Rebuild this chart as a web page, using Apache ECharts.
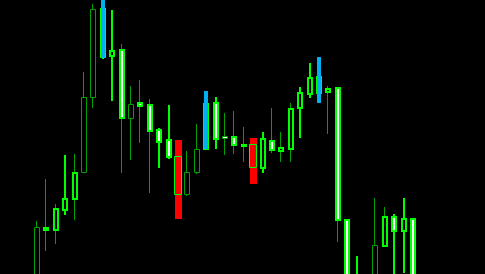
<!DOCTYPE html>
<html>
<head>
<meta charset="utf-8">
<script src="https://cdn.jsdelivr.net/npm/echarts@6/dist/echarts.min.js"></script>
<style>
html,body{margin:0;padding:0;background:#000;overflow:hidden}
#chart{width:485px;height:274px}
</style>
</head>
<body>
<div id="chart"></div>
<script>
// ---- data ----
const opens  = [1174,1246,1244,1264,1275,1301,1376,1465,1418,1424,1355,1371,1369,1344,1334,1318,1279,1301,1325,1371,1338,1337,1329,1330,1306,1333,1323,1325,1366,1380,1397,1382,1386,1254,1194,1184,1174,1228,1257,1243,1255];
const closes = [1247,1244,1265,1275,1301,1377,1465,1417,1423,1356,1370,1368,1343,1332,1317,1279,1302,1325,1370,1335,1335,1329,1328,1306,1335,1324,1326,1365,1381,1396,1381,1385,1254,1174,1174,1164,1229,1257,1243,1255,1184];
const highs  = [1253,1295,1270,1319,1320,1402,1470,1471,1464,1430,1388,1394,1375,1346,1369,1329,1323,1350,1379,1377,1361,1363,1347,1334,1342,1366,1342,1371,1387,1411,1414,1388,1386,1254,1218,1194,1276,1267,1260,1276,1255];
const lows   = [1164,1223,1230,1259,1254,1301,1366,1415,1373,1301,1314,1331,1281,1306,1315,1262,1278,1300,1324,1325,1319,1320,1312,1292,1301,1321,1312,1312,1336,1376,1374,1340,1232,1154,1154,1144,1164,1227,1189,1201,1174];
// signal bars: [bar index, upper price, lower price]
const blueSignals = [[7,1479,1416],[18,1383,1325],[30,1417,1371]];
const redSignals  = [[15,1334,1255],[23,1336,1290]];

// ---- style ----
const LIME = '#00ff00', DARK = '#00a000', BLUE = '#00b0f0', RED = '#ff0000';
const DIM_BODY = [0,5,6,10,16,17,20,36];
const DIM_WICK = [0,1,2,4,5,6,9,10,11,12,16,17,20,21,22,25,26,27,31,32,36,37];
const redIdx = new Set(redSignals.map(r => r[0]));

const candleData = opens.map((o, i) => [i, o, closes[i], lows[i], highs[i]]);

function renderCandle(params, api) {
  const i = api.value(0);
  const o = api.value(1), c = api.value(2), l = api.value(3), h = api.value(4);
  const pO = api.coord([i, o]), pC = api.coord([i, c]);
  const pH = api.coord([i, h]), pL = api.coord([i, l]);
  const cx = Math.round(pO[0]);
  const top = Math.round(Math.min(pO[1], pC[1]));
  const bot = Math.round(Math.max(pO[1], pC[1]));
  const bull = c >= o;
  const dimBody = DIM_BODY.includes(i);
  const dimWick = DIM_WICK.includes(i);
  const children = [];
  if (redIdx.has(i)) {
    children.push({
      type: 'rect',
      shape: { x: cx - 3.5, y: top + 0.5, width: 7, height: Math.max(bot - top - 1, 0) },
      style: { fill: 'none', stroke: LIME, lineWidth: 1 }
    });
  } else {
    if (dimWick) {
      children.push({
        type: 'line',
        shape: { x1: cx - 0.5, y1: Math.round(pH[1]), x2: cx - 0.5, y2: Math.round(pL[1]) },
        style: { stroke: DARK, lineWidth: 1 }
      });
    } else {
      children.push({
        type: 'line',
        shape: { x1: cx, y1: Math.round(pH[1]), x2: cx, y2: Math.round(pL[1]) },
        style: { stroke: LIME, lineWidth: 2 }
      });
    }
    if (dimBody) {
      children.push({
        type: 'rect',
        shape: { x: cx - 2.5, y: top + 0.5, width: 5, height: Math.max(bot - top - 1, 0) },
        style: { fill: bull ? '#000000' : '#ffffff', stroke: DARK, lineWidth: 1 }
      });
    } else {
      children.push({
        type: 'rect',
        shape: { x: cx - 2, y: top, width: 4, height: Math.max(bot - top, 0) },
        style: { fill: bull ? '#000000' : '#ffffff', stroke: LIME, lineWidth: 2 }
      });
    }
  }
  return { type: 'group', children };
}

function signalRenderer(color, halfLeft, width) {
  return function (params, api) {
    const i = api.value(0);
    const pT = api.coord([i, api.value(1)]);
    const pB = api.coord([i, api.value(2)]);
    const cx = Math.round(pT[0]);
    return {
      type: 'rect',
      shape: { x: cx - halfLeft, y: Math.round(pT[1]), width: width, height: Math.round(pB[1]) - Math.round(pT[1]) },
      style: { fill: color }
    };
  };
}

const chart = echarts.init(document.getElementById('chart'), null, { renderer: 'canvas' });
chart.setOption({
  backgroundColor: '#000000',
  animation: false,
  grid: { left: 0, right: 0, top: 0, bottom: 0 },
  xAxis: {
    type: 'value', min: -3.936, max: 47.66,
    axisLine: { show: false }, axisTick: { show: false }, axisLabel: { show: false }, splitLine: { show: false }
  },
  yAxis: {
    type: 'value', min: 1200, max: 1474,
    axisLine: { show: false }, axisTick: { show: false }, axisLabel: { show: false }, splitLine: { show: false }
  },
  series: [
    {
      type: 'custom', name: 'sell', clip: false,
      renderItem: signalRenderer(RED, 3, 7),
      encode: { x: 0, y: [1, 2] },
      data: redSignals
    },
    {
      type: 'custom', name: 'price', clip: false,
      renderItem: renderCandle,
      encode: { x: 0, y: [1, 2, 3, 4] },
      data: candleData
    },
    {
      type: 'custom', name: 'buy', clip: false,
      renderItem: signalRenderer(BLUE, 2, 4),
      encode: { x: 0, y: [1, 2] },
      data: blueSignals
    }
  ]
});
</script>
</body>
</html>
